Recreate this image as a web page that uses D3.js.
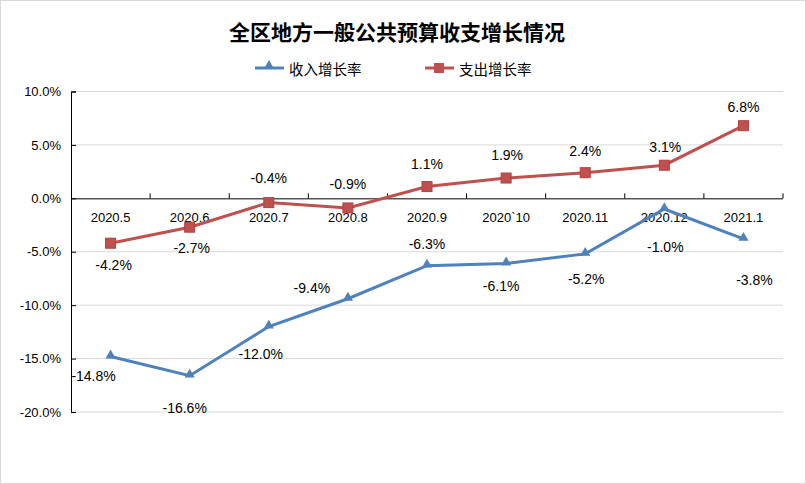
<!DOCTYPE html>
<html><head><meta charset="utf-8">
<script src="https://cdn.jsdelivr.net/npm/d3@7"></script>
<style>body{margin:0;background:#fff}</style>
</head><body>
<svg id="c" width="806" height="484"></svg>
<script>
const categories = ["2020.5","2020.6","2020.7","2020.8","2020.9","2020`10","2020.11","2020.12","2021.1"];
const revenueGrowth = [-14.8,-16.6,-12.0,-9.4,-6.3,-6.1,-5.2,-1.0,-3.8];
const expenditureGrowth = [-4.2,-2.7,-0.4,-0.9,1.1,1.9,2.4,3.1,6.8];
const yTicks = [10,5,0,-5,-10,-15,-20];
const seriesNames = ["收入增长率","支出增长率"];
const title = "全区地方一般公共预算收支增长情况";
// label offsets (layout)
const revLabelOff = [[-17,20],[-5,32],[-8,27],[-36,-11],[0,-22],[-5,22],[1,25],[1,38],[11,41]];
const expLabelOff = [[3,22],[2,21],[0,-25],[0,-24],[0,-23],[1,-23],[0,-22],[1,-18],[0,-19]];

const svg = d3.select("#c");
const W=806,H=484;
const L=71,R=783,T=91.5,B=412;
const blue="#4F81BD", red="#C0504D";
const font="'Liberation Sans', Arial, sans-serif";
const cjk="'Noto Sans CJK SC', sans-serif";

svg.append("rect").attr("x",0.5).attr("y",0.5).attr("width",W-1).attr("height",H-1).attr("fill","#fff").attr("stroke","#d9d9d9");

const x = d3.scaleBand().domain(categories).range([L,R]);
const y = d3.scaleLinear().domain([-20,10]).range([B,T]);

// gridlines
svg.append("g").selectAll("line").data(yTicks.filter(d=>d!==0)).join("line")
  .attr("x1",L).attr("x2",R).attr("y1",d=>y(d)).attr("y2",d=>y(d))
  .attr("stroke","#d9d9d9").attr("stroke-width",1);

// y axis
const ya = svg.append("g").attr("transform",`translate(${L},0)`)
  .call(d3.axisRight(y).tickValues(yTicks).tickSize(5).tickFormat(d=>d.toFixed(1)+"%"));
ya.select(".domain").attr("stroke","#000");
ya.selectAll(".tick line").attr("stroke","#000");
ya.selectAll(".tick text").attr("x",-10).attr("text-anchor","end").attr("font-family",font).attr("font-size",13).attr("fill","#000");

// x axis at 0
const xa = svg.append("g").attr("transform",`translate(0,${y(0)})`)
  .call(d3.axisTop(x).tickSize(0).tickFormat(""));
xa.select(".domain").attr("stroke","#000").attr("d",`M${L},0.5H${R}`);
xa.selectAll(".tick").remove();
svg.append("g").selectAll("line").data(categories.map((c,i)=>i+1)).join("line")
  .attr("x1",i=>L+i*x.bandwidth()).attr("x2",i=>L+i*x.bandwidth())
  .attr("y1",y(0)-5).attr("y2",y(0)).attr("stroke","#000");
svg.append("g").selectAll("text").data(categories).join("text")
  .attr("x",d=>x(d)+x.bandwidth()/2).attr("y",y(0)+19)
  .attr("text-anchor","middle").attr("dominant-baseline","central")
  .attr("font-family",font).attr("font-size",13).text(d=>d);

const cx = d=>x(d)+x.bandwidth()/2;
const line = d3.line().x((d,i)=>cx(categories[i])).y(d=>y(d));

// expenditure series
svg.append("path").datum(expenditureGrowth).attr("d",line).attr("fill","none").attr("stroke",red).attr("stroke-width",3);
svg.append("g").selectAll("rect").data(expenditureGrowth).join("rect")
  .attr("x",(d,i)=>cx(categories[i])-5).attr("y",d=>y(d)-5).attr("width",10).attr("height",10)
  .attr("fill",red).attr("stroke","#b0413e").attr("stroke-width",1);

// revenue series
svg.append("path").datum(revenueGrowth).attr("d",line).attr("fill","none").attr("stroke",blue).attr("stroke-width",3);
const tri = d3.symbol().type(d3.symbolTriangle).size(45);
svg.append("g").selectAll("path").data(revenueGrowth).join("path")
  .attr("d",tri).attr("transform",(d,i)=>`translate(${cx(categories[i])},${y(d)-1})`)
  .attr("fill",blue);

// labels
svg.append("g").selectAll("text").data(expenditureGrowth).join("text")
  .attr("x",(d,i)=>cx(categories[i])+expLabelOff[i][0]).attr("y",(d,i)=>y(d)+expLabelOff[i][1])
  .attr("text-anchor","middle").attr("dominant-baseline","central")
  .attr("font-family",font).attr("font-size",14).text(d=>d.toFixed(1)+"%");
svg.append("g").selectAll("text").data(revenueGrowth).join("text")
  .attr("x",(d,i)=>cx(categories[i])+revLabelOff[i][0]).attr("y",(d,i)=>y(d)+revLabelOff[i][1])
  .attr("text-anchor","middle").attr("dominant-baseline","central")
  .attr("font-family",font).attr("font-size",14).text(d=>d.toFixed(1)+"%");

// title
svg.append("text").attr("x",397).attr("y",31).attr("text-anchor","middle").attr("dominant-baseline","central")
  .attr("font-family",cjk).attr("font-weight","bold").attr("font-size",21).text(title);

// legend
const lg = svg.append("g");
const legendItems = [{name:seriesNames[0],color:blue,x:255,sym:"tri"},{name:seriesNames[1],color:red,x:425,sym:"sq"}];
legendItems.forEach(it=>{
  lg.append("line").attr("x1",it.x).attr("x2",it.x+29).attr("y1",68).attr("y2",68).attr("stroke",it.color).attr("stroke-width",3);
  if(it.sym==="tri") lg.append("path").attr("d",tri).attr("transform",`translate(${it.x+14},66)`).attr("fill",it.color);
  else lg.append("rect").attr("x",it.x+9).attr("y",63).attr("width",10).attr("height",10).attr("fill",it.color);
  lg.append("text").attr("x",it.x+34).attr("y",68).attr("dominant-baseline","central")
    .attr("font-family",cjk).attr("font-size",14.5).text(it.name);
});
</script>
</body></html>
